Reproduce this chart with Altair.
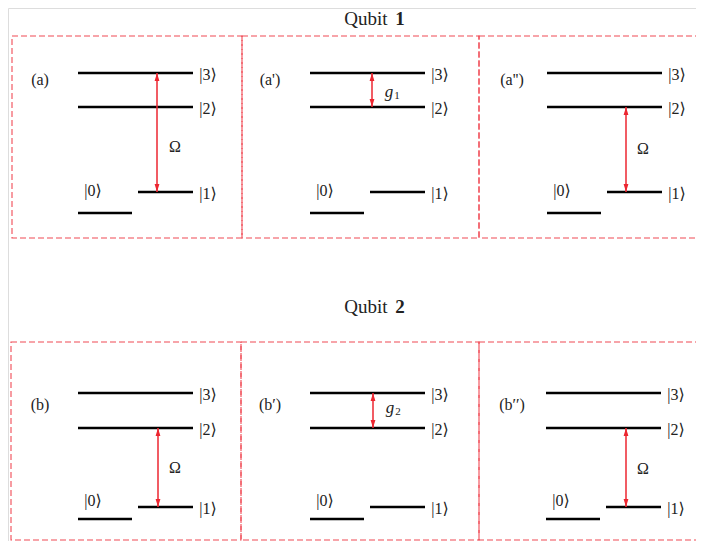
import altair as alt
import pandas as pd

# ---- diagram data ----
panel_labels = ["(a)", "(a')", "(a'')", "(b)", "(b′)", "(b′′)"]
panel_row = [0, 0, 0, 1, 1, 1]
panel_x0 = [78, 310, 547, 78, 310, 546]          # left end of the |2>,|3> levels
panel_label_x = [40, 270, 512, 40, 270, 512]
row_label_y = [80, 405]
row_levels = [[213, 192, 107, 73], [519, 507, 428, 393]]   # |0>,|1>,|2>,|3>
row_title_y = [19, 307]
title_numbers = ["1", "2"]
box_left = [12, 242, 479, 11, 241, 479]
box_right = [242, 479, 720, 241, 479, 720]
box_top = [36, 342]
box_bottom = [238, 540]

arrow_from = [1, 2, 1, 1, 2, 1]
arrow_to = [3, 3, 2, 2, 3, 2]
arrow_x = [157, 372, 626, 158, 373, 626]
arrow_label = ["Ω", "g", "Ω", "Ω", "g", "Ω"]
arrow_sub = ["", "1", "", "", "2", ""]
arrow_label_x = [175, 389, 643, 175, 390, 643]
arrow_label_y = [147, 92, 149, 468, 408, 469]

kets = ["|0⟩", "|1⟩", "|2⟩", "|3⟩"]
LONG, SHORT, GAP = 115, 54, 60

# ---- build tables ----
levels, ket_rows = [], []
for p in range(6):
    x0 = panel_x0[p]
    lv = row_levels[panel_row[p]]
    spans = [(x0, x0 + SHORT), (x0 + GAP, x0 + LONG), (x0, x0 + LONG), (x0, x0 + LONG)]
    for k in range(4):
        levels.append({"x": spans[k][0], "x2": spans[k][1], "y": lv[k]})
        if k == 0:
            ket_rows.append({"x": x0 + 15, "y": (lv[0] + lv[1]) / 2 - 12, "t": kets[k]})
        else:
            ket_rows.append({"x": x0 + 130, "y": lv[k] + 2, "t": kets[k]})
levels = pd.DataFrame(levels)
ket_df = pd.DataFrame(ket_rows)

boxes = pd.DataFrame({
    "x": box_left, "x2": box_right,
    "y": [box_top[r] for r in panel_row],
    "y2": [box_bottom[r] for r in panel_row],
})

arrows = pd.DataFrame({
    "x": arrow_x,
    "ytop": [row_levels[panel_row[p]][arrow_to[p]] for p in range(6)],
    "ybot": [row_levels[panel_row[p]][arrow_from[p]] for p in range(6)],
})

plabels = pd.DataFrame({"x": panel_label_x,
                        "y": [row_label_y[r] for r in panel_row],
                        "t": panel_labels})
alabels = pd.DataFrame({"x": arrow_label_x, "y": arrow_label_y, "t": arrow_label})
omega = alabels[alabels.t == "Ω"]
gees = alabels[alabels.t == "g"]
subs = pd.DataFrame({"x": [arrow_label_x[p] + 8 for p in range(6) if arrow_sub[p]],
                     "y": [arrow_label_y[p] + 4 for p in range(6) if arrow_sub[p]],
                     "t": [s for s in arrow_sub if s]})
titles = pd.DataFrame({"y": row_title_y, "n": title_numbers})

# ---- scales ----
xs = alt.Scale(domain=[8, 696], nice=False, zero=False)
ys = alt.Scale(domain=[8, 541], nice=False, zero=False, reverse=True)
X = lambda f="x": alt.X(f"{f}:Q", scale=xs, axis=None)
Y = lambda f="y": alt.Y(f"{f}:Q", scale=ys, axis=None)

SERIF = "Liberation Serif, DejaVu Serif, serif"
RED = "#ec2630"
DASH = "#f04a55"
INK = "#222222"

box_layer = alt.Chart(boxes).mark_rect(
    fill=None, fillOpacity=0, stroke=DASH, strokeWidth=1.1, strokeDash=[6, 3], clip=True
).encode(x=X(), x2="x2:Q", y=Y(), y2="y2:Q")

level_layer = alt.Chart(levels).mark_rule(color="black", strokeWidth=2.6).encode(
    x=X(), x2="x2:Q", y=Y())

shaft = alt.Chart(arrows).mark_rule(color=RED, strokeWidth=1.5).encode(
    x=X(), y=Y("ytop"), y2="ybot:Q")
head_up = alt.Chart(arrows).mark_point(
    shape="M0,0L-0.6,2L0.6,2Z", filled=True, color=RED, opacity=1, size=64
).encode(x=X(), y=Y("ytop"))
head_down = alt.Chart(arrows).mark_point(
    shape="M0,0L-0.6,-2L0.6,-2Z", filled=True, color=RED, opacity=1, size=64
).encode(x=X(), y=Y("ybot"))

ket_layer = alt.Chart(ket_df).mark_text(
    font=SERIF, fontSize=16, color=INK, align="center", baseline="middle"
).encode(x=X(), y=Y(), text="t:N")

plabel_layer = alt.Chart(plabels).mark_text(
    font=SERIF, fontSize=16, color=INK, align="center", baseline="middle"
).encode(x=X(), y=Y(), text="t:N")

omega_layer = alt.Chart(omega).mark_text(
    font=SERIF, fontSize=16, color=INK, align="center", baseline="middle"
).encode(x=X(), y=Y(), text="t:N")
g_layer = alt.Chart(gees).mark_text(
    font=SERIF, fontSize=17, fontStyle="italic", color=INK, align="center", baseline="middle"
).encode(x=X(), y=Y(), text="t:N")
sub_layer = alt.Chart(subs).mark_text(
    font=SERIF, fontSize=11, color=INK, align="center", baseline="middle"
).encode(x=X(), y=Y(), text="t:N")

title_word = alt.Chart(titles).mark_text(
    font=SERIF, fontSize=19, color=INK, align="center", baseline="middle"
).encode(x=alt.value(366 - 8), y=Y(), text=alt.value("Qubit"))
title_num = alt.Chart(titles).mark_text(
    font=SERIF, fontSize=19, fontWeight="bold", color=INK, align="center", baseline="middle"
).encode(x=alt.value(400 - 8), y=Y(), text="n:N")

chart = alt.layer(
    box_layer, level_layer, shaft, head_up, head_down, ket_layer, plabel_layer,
    omega_layer, g_layer, sub_layer, title_word, title_num
).properties(
    width=688, height=533, padding=0, autosize=alt.AutoSizeParams(type="none")
).configure_view(stroke=None).configure(background="white")

chart.save("out.html", embed_options={"renderer": "svg", "actions": False})
